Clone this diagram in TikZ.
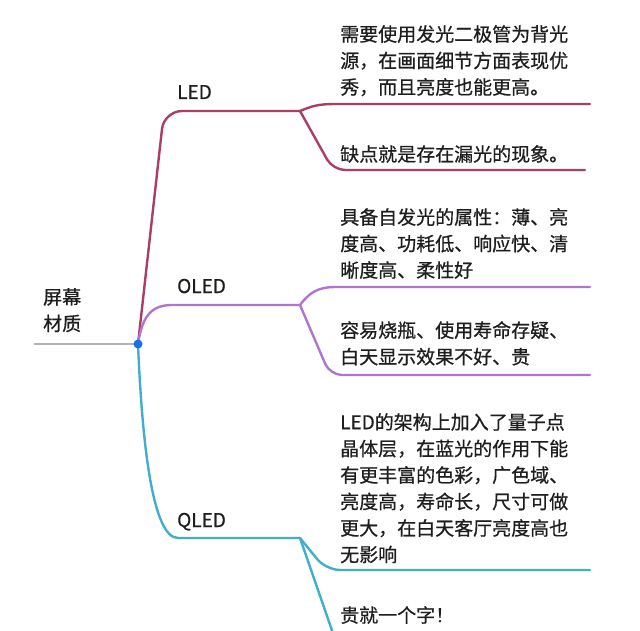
\documentclass[tikz,border=0pt]{standalone}
\usepackage{fontspec}
\setmainfont{Noto Sans CJK SC}[FakeBold=0.7]
\definecolor{textc}{RGB}{30,30,30}
\definecolor{ledc}{RGB}{170,62,102}
\definecolor{oledc}{RGB}{176,118,206}
\definecolor{qledc}{RGB}{66,174,204}
\definecolor{dotc}{RGB}{24,112,232}
\definecolor{rootc}{RGB}{178,178,178}
\begin{document}
\begin{tikzpicture}[x=1pt,y=-1pt,
  txt/.style={font=\fontsize{19}{26.5}\selectfont, text=textc, inner sep=0pt, anchor=north west, align=left},
  lbl/.style={font=\fontsize{19}{22}\selectfont, text=textc, inner sep=0pt, anchor=base west},
  br/.style={line width=2.4pt, line cap=round, line join=round},
]
\useasboundingbox (0,0) rectangle (640,631);
\clip (0,0) rectangle (640,631);

% coordinates
\coordinate (hub) at (138,344);
\coordinate (rootstart) at (34,344);
\coordinate (ledfork) at (300,111);
\coordinate (oledfork) at (300,305);
\coordinate (qledfork) at (300,538);
\coordinate (led1end) at (590,104);
\coordinate (led2end) at (585,170);
\coordinate (oled1end) at (590,287);
\coordinate (oled2end) at (590,375);
\coordinate (qled1end) at (590,570);
\coordinate (qled2end) at (590,668);

% texts
\node[txt] (root) at (43,288) {屏幕\\材质};
\node[lbl] (led) at (177,99) {LED};
\node[lbl] (oled) at (177,293) {OLED};
\node[lbl] (qled) at (177,527) {QLED};

\node[txt] (led1) at (340,25) {需要使用发光二极管为背光\\源，在画面细节方面表现优\\秀，而且亮度也能更高。};
\node[txt] (led2) at (340,145) {缺点就是存在漏光的现象。};
\node[txt] (oled1) at (340,208) {具备自发光的属性：薄、亮\\度高、功耗低、响应快、清\\晰度高、柔性好};
\node[txt] (oled2) at (340,321) {容易烧瓶、使用寿命存疑、\\白天显示效果不好、贵};
\node[txt] (qled1) at (340,413) {LED的架构上加入了量子点\\晶体层，在蓝光的作用下能\\有更丰富的色彩，广色域、\\亮度高，寿命长，尺寸可做\\更大，在白天客厅亮度高也\\无影响};
\node[txt] (qled2) at (340,606) {贵就一个字！};

% root line
\draw[line width=2pt, rootc] (rootstart) -- (hub);

% main branches
\draw[br, ledc, rounded corners=18pt] (hub) -- (164,111) -- (ledfork);
\draw[br, oledc] (hub) .. controls (142,318) and (150,305) .. (172,305) -- (oledfork);
\draw[br, qledc] (hub) .. controls (142,440) and (152,538) .. (178,538) -- (qledfork);

% LED children
\draw[br, ledc] (ledfork) .. controls (312,106) and (318,104) .. (336,104) -- (led1end);
\draw[br, ledc, rounded corners=12pt] (ledfork) -- (333,170) -- (led2end);
% OLED children
\draw[br, oledc] (oledfork) .. controls (310,292) and (318,287) .. (336,287) -- (oled1end);
\draw[br, oledc, rounded corners=12pt] (oledfork) -- (330,375) -- (oled2end);
% QLED children
\draw[br, qledc, rounded corners=14pt] (qledfork) -- (326,570) -- (qled1end);
\draw[br, qledc, rounded corners=14pt] (qledfork) -- (345,668) -- (qled2end);

\fill[dotc] (hub) circle (4.5pt);
\end{tikzpicture}
\end{document}
